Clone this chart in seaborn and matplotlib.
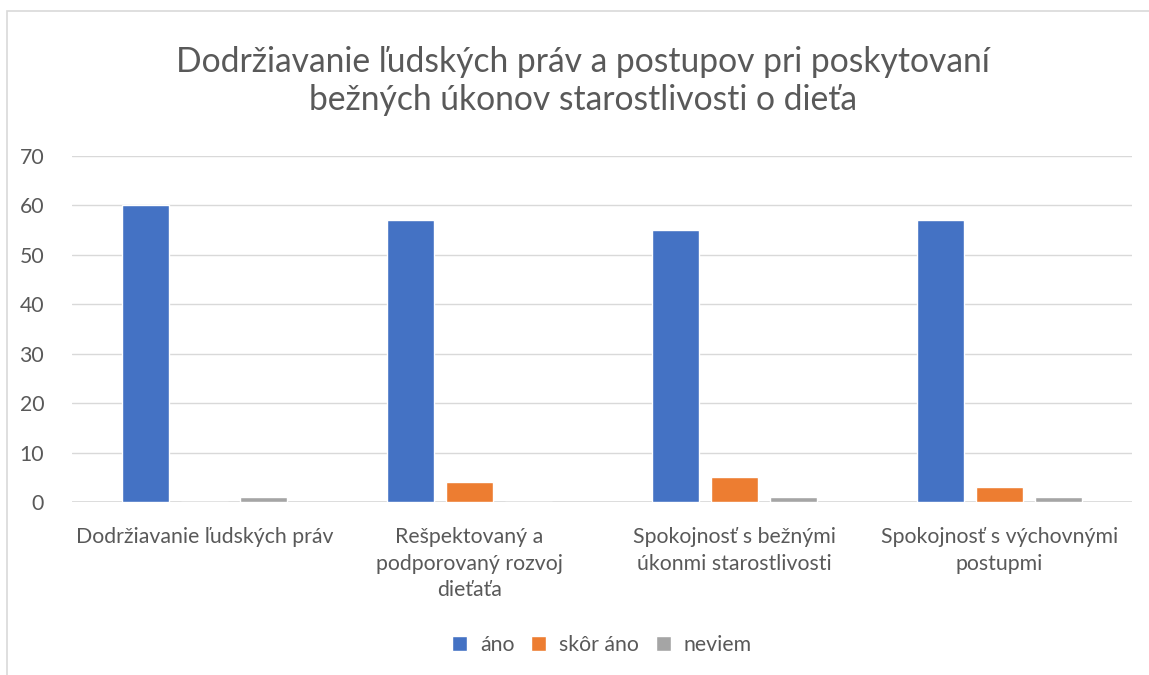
import matplotlib
matplotlib.use("Agg")
import matplotlib.pyplot as plt
import seaborn as sns
import pandas as pd
from matplotlib.patches import Rectangle

categories = ["Dodržiavanie ľudských práv",
              "Rešpektovaný a\npodporovaný rozvoj\ndieťaťa",
              "Spokojnosť s bežnými\núkonmi starostlivosti",
              "Spokojnosť s výchovnými\npostupmi"]
series = ["áno", "skôr áno", "neviem"]
ano = [60, 57, 55, 57]
skor_ano = [0, 4, 5, 3]
neviem = [1, 0, 1, 1]
colors = ["#4472C4", "#ED7D31", "#A5A5A5"]

rows = []
for name, vals in zip(series, [ano, skor_ano, neviem]):
    for cat, v in zip(categories, vals):
        rows.append({"kategoria": cat, "seria": name, "hodnota": v})
df = pd.DataFrame(rows)

sns.set_style("white")
plt.rcParams["font.family"] = ["Lato", "DejaVu Sans"]

fig = plt.figure(figsize=(11.49, 6.75), dpi=100)
ax = fig.add_axes([72 / 1149, (675 - 502) / 675, 1060 / 1149, 346 / 675])

# clustered bars
sns.barplot(data=df, x="kategoria", y="hodnota", hue="seria", palette=colors,
            saturation=1, width=0.668, gap=0.2, ax=ax, legend=True)

ax.set_ylim(0, 70)
ax.set_yticks(range(0, 71, 10))
ax.yaxis.grid(True, color="#D9D9D9", linewidth=1)
ax.set_axisbelow(True)
for s in ax.spines.values():
    s.set_visible(False)
ax.axhline(0, color="#D9D9D9", linewidth=1.2, zorder=0)
ax.set_xlabel("")
ax.set_ylabel("")
ax.tick_params(axis="both", length=0, labelsize=15.3, colors="#595959")
ax.tick_params(axis="x", pad=18)
ax.tick_params(axis="y", pad=20)
for lbl in ax.get_xticklabels():
    lbl.set_linespacing(1.42)

# legend at the bottom
ax.legend(loc="center", bbox_to_anchor=(0.5, -(645 - 502) / 346), ncol=3,
          frameon=False, fontsize=15.3, handlelength=0.7, handleheight=0.7,
          columnspacing=0.8, handletextpad=0.6, labelcolor="#595959")

fig.text(583 / 1149, 1 - 81 / 675,
         "Dodržiavanie ľudských práv a postupov pri poskytovaní\nbežných úkonov starostlivosti o dieťa",
         ha="center", va="center", fontsize=24.2, color="#595959", linespacing=1.22)

# chart border
fig.patches.append(Rectangle((7 / 1149, -0.01), 1.2, 1 - 11 / 675 + 0.01,
                             transform=fig.transFigure, fill=False,
                             edgecolor="#D9D9D9", linewidth=1.2))

fig.savefig("out.png", dpi=100)
